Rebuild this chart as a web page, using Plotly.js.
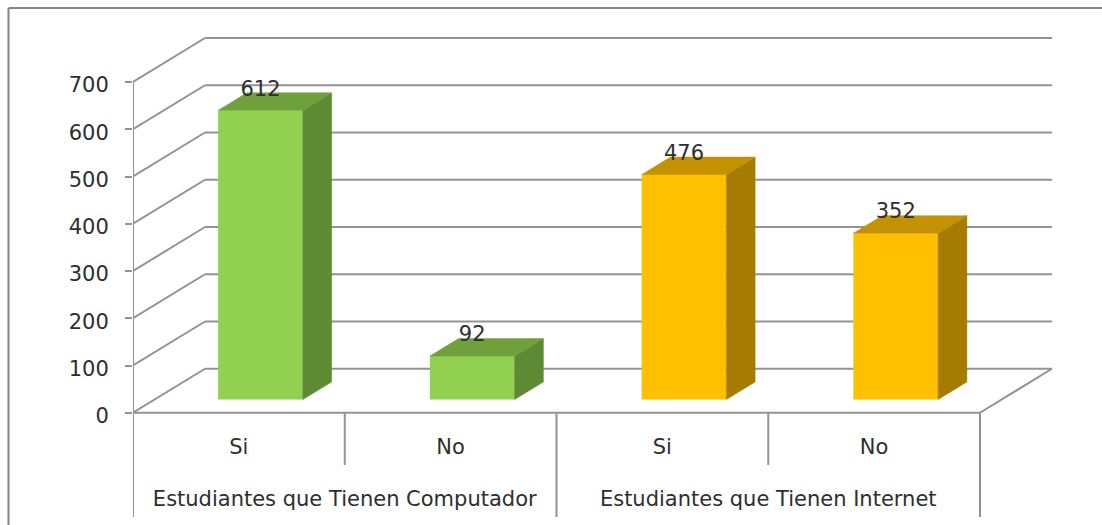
<!DOCTYPE html>
<html>
<head>
<meta charset="utf-8">
<script src="https://cdn.plot.ly/plotly-3.0.1.min.js"></script>
<style>html,body{margin:0;padding:0;background:#fff}#chart{width:1102px;height:525px}</style>
</head>
<body>
<div id="chart"></div>
<script>
const categories = ["Si", "No", "Si", "No"];
const groups = ["Estudiantes que Tienen Computador", "Estudiantes que Tienen Internet"];
const values = [612, 92, 476, 352];
const frontColors = ["#92D050", "#92D050", "#FFC000", "#FFC000"];
const sideColors = ["#5E8A34", "#5E8A34", "#A67C00", "#A67C00"];
const topColors = ["#6FA03C", "#6FA03C", "#C49200", "#C49200"];
const tickValues = [0, 100, 200, 300, 400, 500, 600, 700];

const W = 1102, H = 525, LEFT = 133;
const pxPerCat = 211.75, pxPerUnit = 0.4725, zeroPx = 412.75;
const wallDx = 72 / pxPerCat;           // depth of the box, in category units
const wallDy = 44 / pxPerUnit;          // depth of the box, in value units
const depthFront = 0.3, depthBack = 0.7, barWidth = 0.4;
const P = (x, v, d) => [x + d * wallDx, v + d * wallDy];
const yAt = px => (zeroPx - px) / pxPerUnit;

const GRID = "#939393", TEXT = "#2E2E2E", FONT = "DejaVu Sans";
const shapes = [];
const seg = (a, b) => shapes.push({
  type: "line", layer: "below", xref: "x", yref: "y",
  x0: a[0], y0: a[1], x1: b[0], y1: b[1],
  line: { color: GRID, width: 2 }
});

// walls: back gridlines and left diagonals
tickValues.forEach(t => {
  seg(P(0, t, 0), P(0, t, 1));
  seg(P(0, t, 1), P(categories.length, t, 1));
});
// floor
seg(P(0, 0, 0), P(categories.length, 0, 0));
seg(P(categories.length, 0, 0), P(categories.length, 0, 1));

// chart frame (top and left edges)
const px2paperX = px => (px - LEFT) / (W - LEFT);
const frame = (x0, y0, x1, y1) => shapes.push({
  type: "line", layer: "below", xref: "paper", yref: "paper",
  x0: px2paperX(x0), y0: 1 - y0 / H, x1: px2paperX(x1), y1: 1 - y1 / H,
  line: { color: "#858585", width: 2 }
});
frame(8.5, 8, W, 8);
frame(8.5, 8, 8.5, H);

const traces = [];

// bar fronts
traces.push({
  type: "bar",
  x: values.map((v, i) => P(i + 0.5, 0, depthFront)[0]),
  y: values,
  base: P(0, 0, depthFront)[1],
  width: barWidth,
  marker: { color: frontColors, line: { width: 0 } },
  hoverinfo: "skip"
});

// bar sides and tops
const poly = (pts, color) => traces.push({
  type: "scatter", mode: "lines", fill: "toself", fillcolor: color,
  x: pts.map(p => p[0]), y: pts.map(p => p[1]),
  line: { color: color, width: 0.5 }, hoverinfo: "skip"
});
values.forEach((v, i) => {
  const l = i + 0.5 - barWidth / 2, r = i + 0.5 + barWidth / 2;
  poly([P(r, 0, depthFront), P(r, 0, depthBack), P(r, v, depthBack), P(r, v, depthFront), P(r, 0, depthFront)], sideColors[i]);
  poly([P(l, v, depthFront), P(r, v, depthFront), P(r, v, depthBack), P(l, v, depthBack), P(l, v, depthFront)], topColors[i]);
});

// axis and category separators
const vline = (x, top, bottom) => traces.push({
  type: "scatter", mode: "lines", x: [x, x], y: [top, bottom],
  line: { color: GRID, width: 2 }, cliponaxis: false, hoverinfo: "skip"
});
vline(0, tickValues[tickValues.length - 1], yAt(517));
vline(1, 0, yAt(465));
vline(2, 0, yAt(517));
vline(3, 0, yAt(465));
vline(4, 0, yAt(517));

// data labels
traces.push({
  type: "scatter", mode: "text",
  x: values.map((v, i) => P(i + 0.5, 0, depthFront)[0]),
  y: values.map(v => P(0, v, depthFront)[1] + 20 / pxPerUnit),
  text: values.map(String), textposition: "middle center",
  textfont: { family: FONT, size: 21, color: TEXT }, hoverinfo: "skip"
});
// category labels
traces.push({
  type: "scatter", mode: "text",
  x: categories.map((c, i) => i + 0.5),
  y: categories.map(() => yAt(449)),
  text: categories, textposition: "middle center",
  textfont: { family: FONT, size: 21, color: TEXT }, hoverinfo: "skip"
});
// group labels
traces.push({
  type: "scatter", mode: "text",
  x: groups.map((g, i) => i * 2 + 1),
  y: groups.map(() => yAt(501)),
  text: groups, textposition: "middle center",
  textfont: { family: FONT, size: 21, color: TEXT }, hoverinfo: "skip"
});

const layout = {
  width: W, height: H,
  margin: { l: LEFT, r: 0, t: 0, b: 0, pad: 0 },
  paper_bgcolor: "#fff", plot_bgcolor: "#fff",
  showlegend: false, hovermode: false, barmode: "overlay",
  xaxis: {
    range: [0, (W - LEFT) / pxPerCat],
    visible: false, fixedrange: true
  },
  yaxis: {
    range: [yAt(H), yAt(0)],
    tickmode: "array", tickvals: tickValues, ticktext: tickValues.map(String),
    ticks: "outside", ticklen: 7, tickwidth: 2, tickcolor: GRID,
    ticklabelstandoff: 12, ticklabelshift: 3,
    tickfont: { family: FONT, size: 21, color: TEXT },
    showgrid: false, zeroline: false, showline: false, fixedrange: true
  },
  shapes: shapes
};
Plotly.newPlot("chart", traces, layout, { displayModeBar: false, staticPlot: true });
</script>
</body>
</html>
